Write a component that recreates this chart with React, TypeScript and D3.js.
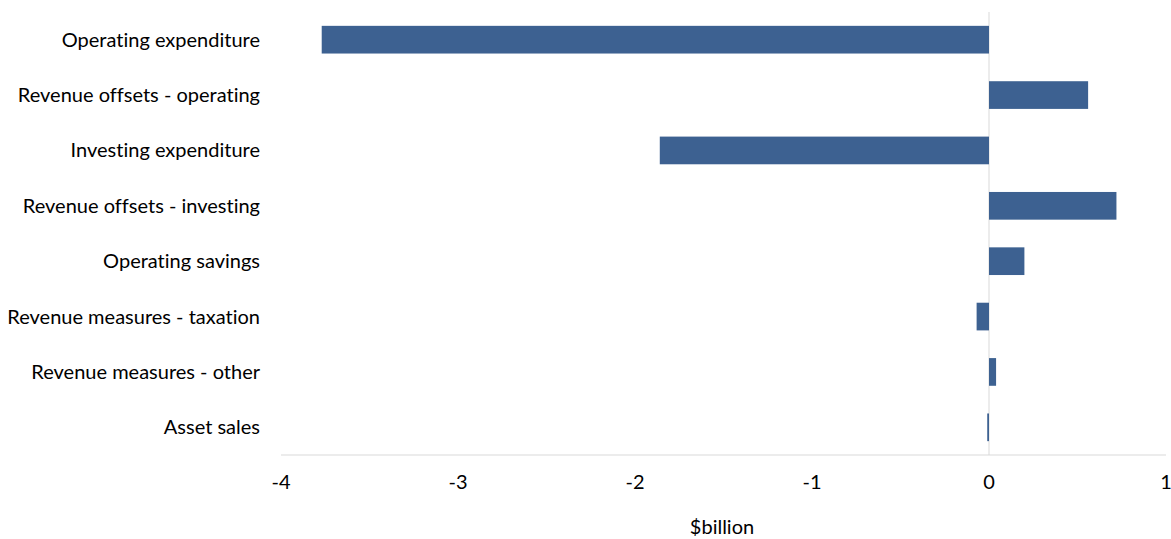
import React from "react";
import * as d3 from "d3";

const categories = [
  "Operating expenditure",
  "Revenue offsets - operating",
  "Investing expenditure",
  "Revenue offsets - investing",
  "Operating savings",
  "Revenue measures - taxation",
  "Revenue measures - other",
  "Asset sales",
];
const values = [-3.77, 0.56, -1.86, 0.72, 0.2, -0.07, 0.04, -0.01];
const ticks = [-4, -3, -2, -1, 0, 1];
const axisTitle = "$billion";

const W = 1171;
const H = 539;
const M = { left: 281, right: 1166, top: 12, bottom: 455 };
const FONT = "Lato, 'Open Sans', sans-serif";
const FS = 20;

export default function App() {
  const x = d3.scaleLinear().domain([-4, 1]).range([M.left, M.right]);
  const y = d3
    .scaleBand<string>()
    .domain(categories)
    .range([M.top, M.bottom])
    .paddingInner(0.5)
    .paddingOuter(0.25);
  return (
    <svg
      width={W}
      height={H}
      style={{ position: "absolute", left: 0, top: 0, background: "#fff", fontVariantLigatures: "none" }}
      fontFamily={FONT}
    >
      <line x1={x(0)} x2={x(0)} y1={M.top} y2={M.bottom} stroke="#d9d9d9" strokeWidth={1} />
      <line x1={M.left} x2={M.right} y1={M.bottom} y2={M.bottom} stroke="#d9d9d9" strokeWidth={1} />
      {categories.map((c, i) => {
        const v = values[i];
        const x0 = x(Math.min(0, v));
        const x1 = x(Math.max(0, v));
        return (
          <g key={c}>
            <rect x={x0} y={y(c)!} width={Math.max(1.5, x1 - x0)} height={y.bandwidth()} fill="#3d6191" />
            <text
              x={260}
              y={y(c)! + y.bandwidth() / 2 + 7}
              textAnchor="end"
              fontSize={FS}
              fill="#000"
            >
              {c}
            </text>
          </g>
        );
      })}
      {ticks.map((t) => (
        <text key={t} x={x(t)} y={489} textAnchor="middle" fontSize={FS} fill="#000">
          {t}
        </text>
      ))}
      <text x={722} y={534} textAnchor="middle" fontSize={FS} fill="#000">
        {axisTitle}
      </text>
    </svg>
  );
}
